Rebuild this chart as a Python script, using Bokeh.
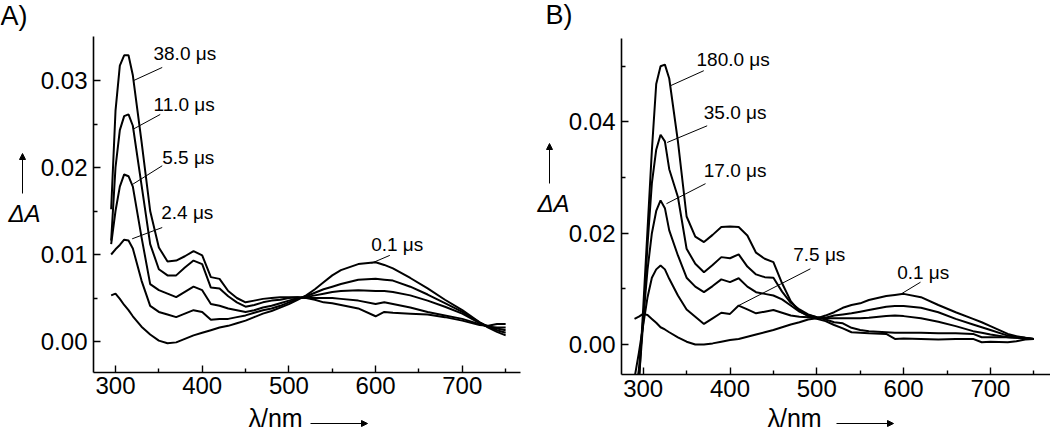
import math
from bokeh.plotting import figure
from bokeh.layouts import row
from bokeh.models import (Range1d, FixedTicker, NumeralTickFormatter, Label,
                          Arrow, NormalHead)
from bokeh.embed import file_html
from bokeh.resources import INLINE

# ---------------- data: panel A ----------------
wl_a = [295, 300, 305, 310, 315, 320, 330, 340, 350, 360, 370, 380, 390, 400,
        410, 420, 430, 440, 450, 460, 470, 480, 490, 500, 510, 520, 530, 540,
        550, 560, 580, 600, 610, 620, 640, 660, 680, 700, 720, 730, 740, 750]
a_380 = [0.0152, 0.0265, 0.0317, 0.0329, 0.0329, 0.0306, 0.0230, 0.0150, 0.0108,
         0.0092, 0.0093, 0.0098, 0.0104, 0.0099, 0.0074, 0.0072, 0.0058, 0.0050,
         0.0045, 0.0047, 0.0049, 0.0050, 0.0051, 0.0051, 0.0051, 0.0050, 0.0048,
         0.0045, 0.0044, 0.0042, 0.0038, 0.0029, 0.0034, 0.0033, 0.0032, 0.0031,
         0.0028, 0.0024, 0.0019, 0.0018, 0.0020, 0.0020]
a_110 = [0.0116, 0.0200, 0.0243, 0.0259, 0.0261, 0.0248, 0.0180, 0.0112, 0.0083,
         0.0076, 0.0076, 0.0085, 0.0093, 0.0089, 0.0062, 0.0061, 0.0052, 0.0045,
         0.0040, 0.0042, 0.0045, 0.0047, 0.0048, 0.0050, 0.0051, 0.0050, 0.0050,
         0.0050, 0.0050, 0.0049, 0.0047, 0.0043, 0.0045, 0.0043, 0.0039, 0.0034,
         0.0030, 0.0026, 0.0020, 0.0017, 0.0016, 0.0016]
a_55 = [0.0112, 0.0150, 0.0178, 0.0192, 0.0190, 0.0178, 0.0120, 0.0066, 0.0059,
        0.0055, 0.0051, 0.0057, 0.0063, 0.0059, 0.0043, 0.0041, 0.0038, 0.0036,
        0.0034, 0.0036, 0.0039, 0.0041, 0.0044, 0.0047, 0.0050, 0.0051, 0.0053,
        0.0055, 0.0057, 0.0058, 0.0059, 0.0058, 0.0058, 0.0057, 0.0053, 0.0047,
        0.0040, 0.0032, 0.0021, 0.0017, 0.0015, 0.0013]
a_24 = [0.0100, 0.0106, 0.0111, 0.0117, 0.0116, 0.0107, 0.0070, 0.0041, 0.0034,
        0.0031, 0.0028, 0.0032, 0.0036, 0.0034, 0.0025, 0.0026, 0.0026, 0.0028,
        0.0030, 0.0033, 0.0036, 0.0038, 0.0041, 0.0045, 0.0049, 0.0052, 0.0056,
        0.0060, 0.0063, 0.0066, 0.0071, 0.0072, 0.0071, 0.0070, 0.0063, 0.0054,
        0.0044, 0.0034, 0.0022, 0.0017, 0.0013, 0.0010]
a_01 = [0.0053, 0.0055, 0.0049, 0.0042, 0.0036, 0.0029, 0.0017, 0.0008, 0.0001,
        -0.0002, -0.0001, 0.0003, 0.0007, 0.0010, 0.0013, 0.0016, 0.0018, 0.0021,
        0.0024, 0.0028, 0.0032, 0.0035, 0.0039, 0.0043, 0.0048, 0.0053, 0.0060,
        0.0068, 0.0076, 0.0082, 0.0089, 0.0091, 0.0088, 0.0084, 0.0073, 0.0061,
        0.0048, 0.0036, 0.0022, 0.0016, 0.0011, 0.0007]
series_a = [a_380, a_110, a_55, a_24, a_01]
labels_a = ["38.0 \u03bcs", "11.0 \u03bcs", "5.5 \u03bcs", "2.4 \u03bcs", "0.1 \u03bcs"]
label_xy_a = [(343.8, 0.0322), (343.8, 0.0263), (353.9, 0.0202), (352.7, 0.0139), (594.9, 0.0102)]
leader_a = [(321.0, 0.0300, 353.9, 0.0315), (320.3, 0.0244, 351.6, 0.0261),
            (320.3, 0.0181, 353.9, 0.0202), (319.2, 0.0118, 353.9, 0.0131),
            (595.3, 0.0090, 616.4, 0.0099)]

# ---------------- data: panel B ----------------
wl_b = [290, 295, 300, 305, 310, 315, 320, 325, 330, 340, 350, 360, 370, 380,
        390, 400, 410, 420, 430, 440, 450, 460, 470, 480, 490, 500, 510, 520,
        530, 540, 550, 560, 580, 590, 600, 620, 640, 660, 680, 690, 700, 720,
        730, 740, 750]
b_1800 = [-0.0120, -0.0070, 0.0065, 0.0207, 0.0349, 0.0468, 0.0500, 0.0503, 0.0478,
          0.0365, 0.0230, 0.0194, 0.0184, 0.0197, 0.0211, 0.0212, 0.0211, 0.0196,
          0.0165, 0.0154, 0.0148, 0.0110, 0.0078, 0.0060, 0.0051, 0.0046, 0.0042,
          0.0035, 0.0029, 0.0022, 0.0021, 0.0020, 0.0019, 0.0010, 0.0011, 0.0010,
          0.0009, 0.0010, 0.0010, 0.0004, 0.0005, 0.0004, 0.0006, 0.0009, 0.0010]
b_350 = [-0.0130, -0.0065, 0.0040, 0.0180, 0.0290, 0.0350, 0.0377, 0.0365, 0.0315,
         0.0265, 0.0172, 0.0145, 0.0130, 0.0143, 0.0157, 0.0155, 0.0162, 0.0140,
         0.0126, 0.0121, 0.0120, 0.0095, 0.0075, 0.0063, 0.0054, 0.0049, 0.0045,
         0.0040, 0.0038, 0.0030, 0.0026, 0.0024, 0.0022, 0.0021, 0.0021, 0.0021,
         0.0020, 0.0020, 0.0019, 0.0013, 0.0013, 0.0013, 0.0012, 0.0011, 0.0010]
b_170 = [-0.0100, -0.0045, 0.0045, 0.0135, 0.0200, 0.0240, 0.0259, 0.0245, 0.0205,
         0.0160, 0.0120, 0.0104, 0.0094, 0.0105, 0.0117, 0.0112, 0.0119, 0.0104,
         0.0094, 0.0091, 0.0088, 0.0081, 0.0070, 0.0059, 0.0053, 0.0049, 0.0047,
         0.0047, 0.0047, 0.0047, 0.0047, 0.0048, 0.0051, 0.0052, 0.0051, 0.0047,
         0.0041, 0.0033, 0.0024, 0.0021, 0.0018, 0.0013, 0.0012, 0.0011, 0.0010]
b_75 = [-0.0060, -0.0015, 0.0035, 0.0085, 0.0120, 0.0135, 0.0142, 0.0135, 0.0118,
        0.0088, 0.0063, 0.0050, 0.0037, 0.0047, 0.0057, 0.0055, 0.0070, 0.0063,
        0.0056, 0.0059, 0.0062, 0.0057, 0.0052, 0.0050, 0.0049, 0.0048, 0.0048,
        0.0052, 0.0054, 0.0056, 0.0059, 0.0062, 0.0068, 0.0069, 0.0069, 0.0066,
        0.0058, 0.0046, 0.0036, 0.0031, 0.0026, 0.0016, 0.0014, 0.0012, 0.0010]
b_01 = [0.0046, 0.0050, 0.0055, 0.0053, 0.0046, 0.0039, 0.0031, 0.0027, 0.0022,
        0.0013, 0.0005, 0.0000, 0.0000, 0.0002, 0.0005, 0.0008, 0.0010, 0.0014,
        0.0018, 0.0022, 0.0026, 0.0031, 0.0036, 0.0040, 0.0045, 0.0047, 0.0052,
        0.0058, 0.0066, 0.0071, 0.0074, 0.0080, 0.0087, 0.0089, 0.0091, 0.0085,
        0.0071, 0.0058, 0.0046, 0.0040, 0.0033, 0.0019, 0.0015, 0.0012, 0.0010]
series_b = [b_1800, b_350, b_170, b_75, b_01]
labels_b = ["180.0 \u03bcs", "35.0 \u03bcs", "17.0 \u03bcs", "7.5 \u03bcs", "0.1 \u03bcs"]
label_xy_b = [(361.4, 0.0498), (369.8, 0.0403), (369.8, 0.0298), (472.8, 0.0148), (592.6, 0.0115)]
leader_b = [(331.4, 0.0465, 369.8, 0.0492), (327.6, 0.0363, 373.7, 0.0393),
            (326.8, 0.0253, 371.8, 0.0289), (410.0, 0.0070, 492.6, 0.0136),
            (598.4, 0.0092, 619.5, 0.0112)]

x_major = [300, 400, 500, 600, 700]
x_minor = [350, 450, 550, 650, 750]

FONT = "Liberation Sans"
H = 434


def lift(size):
    # Bokeh's baseline anchor sits lower than the glyph baseline; compensate
    return round(0.42 * size, 1)


def clip_low(xs, ys, ymin):
    """cut a polyline where it drops below the x axis (as the frame clip would)"""
    ox, oy = [], []
    for i, (x, y) in enumerate(zip(xs, ys)):
        if i > 0:
            xp, yp = xs[i - 1], ys[i - 1]
            if (yp < ymin) != (y < ymin):
                t = (ymin - yp) / (y - yp)
                ox.append(xp + t * (x - xp))
                oy.append(ymin)
        if y >= ymin:
            ox.append(x)
            oy.append(y)
        else:
            ox.append(float("nan"))
            oy.append(float("nan"))
    return ox, oy


def make_panel(left_px, width, cal, axis_x, axis_y, y_major, y_minor, wl, series,
               labels, label_xy, leaders):
    # cal: page px of x=300, px per nm, page px of y=0, px per unit of y
    x300, pxnm, y0px, pxu = cal
    xr = (300 + (left_px - x300) / pxnm, 300 + (left_px + width - x300) / pxnm)
    yr = ((y0px - H) / pxu, y0px / pxu)
    p = figure(width=width, height=H, x_range=Range1d(*xr), y_range=Range1d(*yr),
               output_backend="svg", toolbar_location=None,
               min_border_left=0, min_border_right=0, min_border_top=0,
               min_border_bottom=0)
    p.outline_line_color = None
    p.xgrid.visible = False
    p.ygrid.visible = False
    p.yaxis.fixed_location = axis_x[0]
    p.yaxis.bounds = axis_y
    p.xaxis.fixed_location = axis_y[0]
    p.xaxis.bounds = axis_x
    for ax in (p.xaxis[0], p.yaxis[0]):
        ax.axis_line_width = 1.6
        ax.axis_line_color = "black"
        ax.major_tick_line_color = "black"
        ax.minor_tick_line_color = "black"
        ax.major_tick_line_width = 1.4
        ax.minor_tick_line_width = 1.4
        ax.major_tick_in = 7
        ax.major_tick_out = 0
        ax.minor_tick_in = 4
        ax.minor_tick_out = 0
        ax.major_label_text_font = FONT
        ax.major_label_text_font_size = "24px"
        ax.major_label_text_color = "black"
    p.xaxis[0].ticker = FixedTicker(ticks=x_major, minor_ticks=x_minor)
    p.xaxis[0].major_label_standoff = 5
    p.yaxis[0].ticker = FixedTicker(ticks=y_major, minor_ticks=y_minor)
    p.yaxis[0].formatter = NumeralTickFormatter(format="0.00")
    p.yaxis[0].major_label_standoff = 6

    for ys in series:
        cx, cy = clip_low(wl, ys, axis_y[0])
        p.line(cx, cy, line_color="black", line_width=2)

    p.segment(x0=[l[0] for l in leaders], y0=[l[1] for l in leaders],
              x1=[l[2] for l in leaders], y1=[l[3] for l in leaders],
              line_color="black", line_width=1)
    for txt, (x, y) in zip(labels, label_xy):
        p.add_layout(Label(x=x, y=y, text=txt, text_font=FONT, y_offset=lift(19),
                           text_font_size="19px", text_color="black",
                           text_align="left", text_baseline="alphabetic"))
    p._frame = (left_px, width, xr, yr)
    return p


def pg(p, px, py):
    """map a position given in page pixels to data coordinates of a panel"""
    left, width, (x0, x1), (y0, y1) = p._frame
    return x0 + (px - left) * (x1 - x0) / width, y1 - py * (y1 - y0) / H


def decorate(p, tag, tag_px, delta_px, arrow_y, lam_px, lam_arrow):
    x, y = pg(p, *tag_px)
    p.add_layout(Label(x=x, y=y, text=tag, text_font=FONT, text_font_size="27px",
                       y_offset=lift(27),
                       text_color="black", text_baseline="alphabetic"))
    x, y = pg(p, *delta_px)
    p.add_layout(Label(x=x, y=y, text="\u0394A", text_font=FONT,
                       text_font_size="24px", text_font_style="italic",
                       y_offset=lift(24),
                       text_color="black", text_baseline="alphabetic"))
    xs, ys = pg(p, arrow_y[0], arrow_y[1])
    xe, ye = pg(p, arrow_y[0], arrow_y[2])
    p.add_layout(Arrow(x_start=xs, y_start=ys, x_end=xe, y_end=ye, line_width=1,
                       line_color="black",
                       end=NormalHead(size=6, fill_color="black", line_color="black")))
    x, y = pg(p, *lam_px)
    p.add_layout(Label(x=x, y=y, text="\u03bb/nm", text_font=FONT,
                       text_font_size="25px", text_color="black",
                       y_offset=lift(25),
                       text_baseline="alphabetic"))
    xs, ys = pg(p, lam_arrow[0], lam_arrow[2])
    xe, ye = pg(p, lam_arrow[1], lam_arrow[2])
    p.add_layout(Arrow(x_start=xs, y_start=ys, x_end=xe, y_end=ye, line_width=1,
                       line_color="black",
                       end=NormalHead(size=6, fill_color="black", line_color="black")))


cal_a = (115.0, 0.867, 341.0, 8700.0)
cal_b = (642.7, 0.868, 344.0, 5565.0)

pA = make_panel(0, 528, cal_a, (274.6, 767.1), (-0.00356, 0.03506),
                [0.0, 0.01, 0.02, 0.03], [0.005, 0.015, 0.025],
                wl_a, series_a, labels_a, label_xy_a, leader_a)
pB = make_panel(528, 522, cal_b, (275.0, 769.0), (-0.0054, 0.0550),
                [0.0, 0.02, 0.04], [0.01, 0.03, 0.05],
                wl_b, series_b, labels_b, label_xy_b, leader_b)

decorate(pA, "A)", (0, 27), (8, 223), (22, 193, 153), (248, 428), (310, 367, 423))
decorate(pB, "B)", (545, 26), (537, 213), (549, 183, 143), (767, 428), (836, 893, 423))

layout = row(pA, pB)
open("out.html", "w").write(file_html(layout, INLINE))
